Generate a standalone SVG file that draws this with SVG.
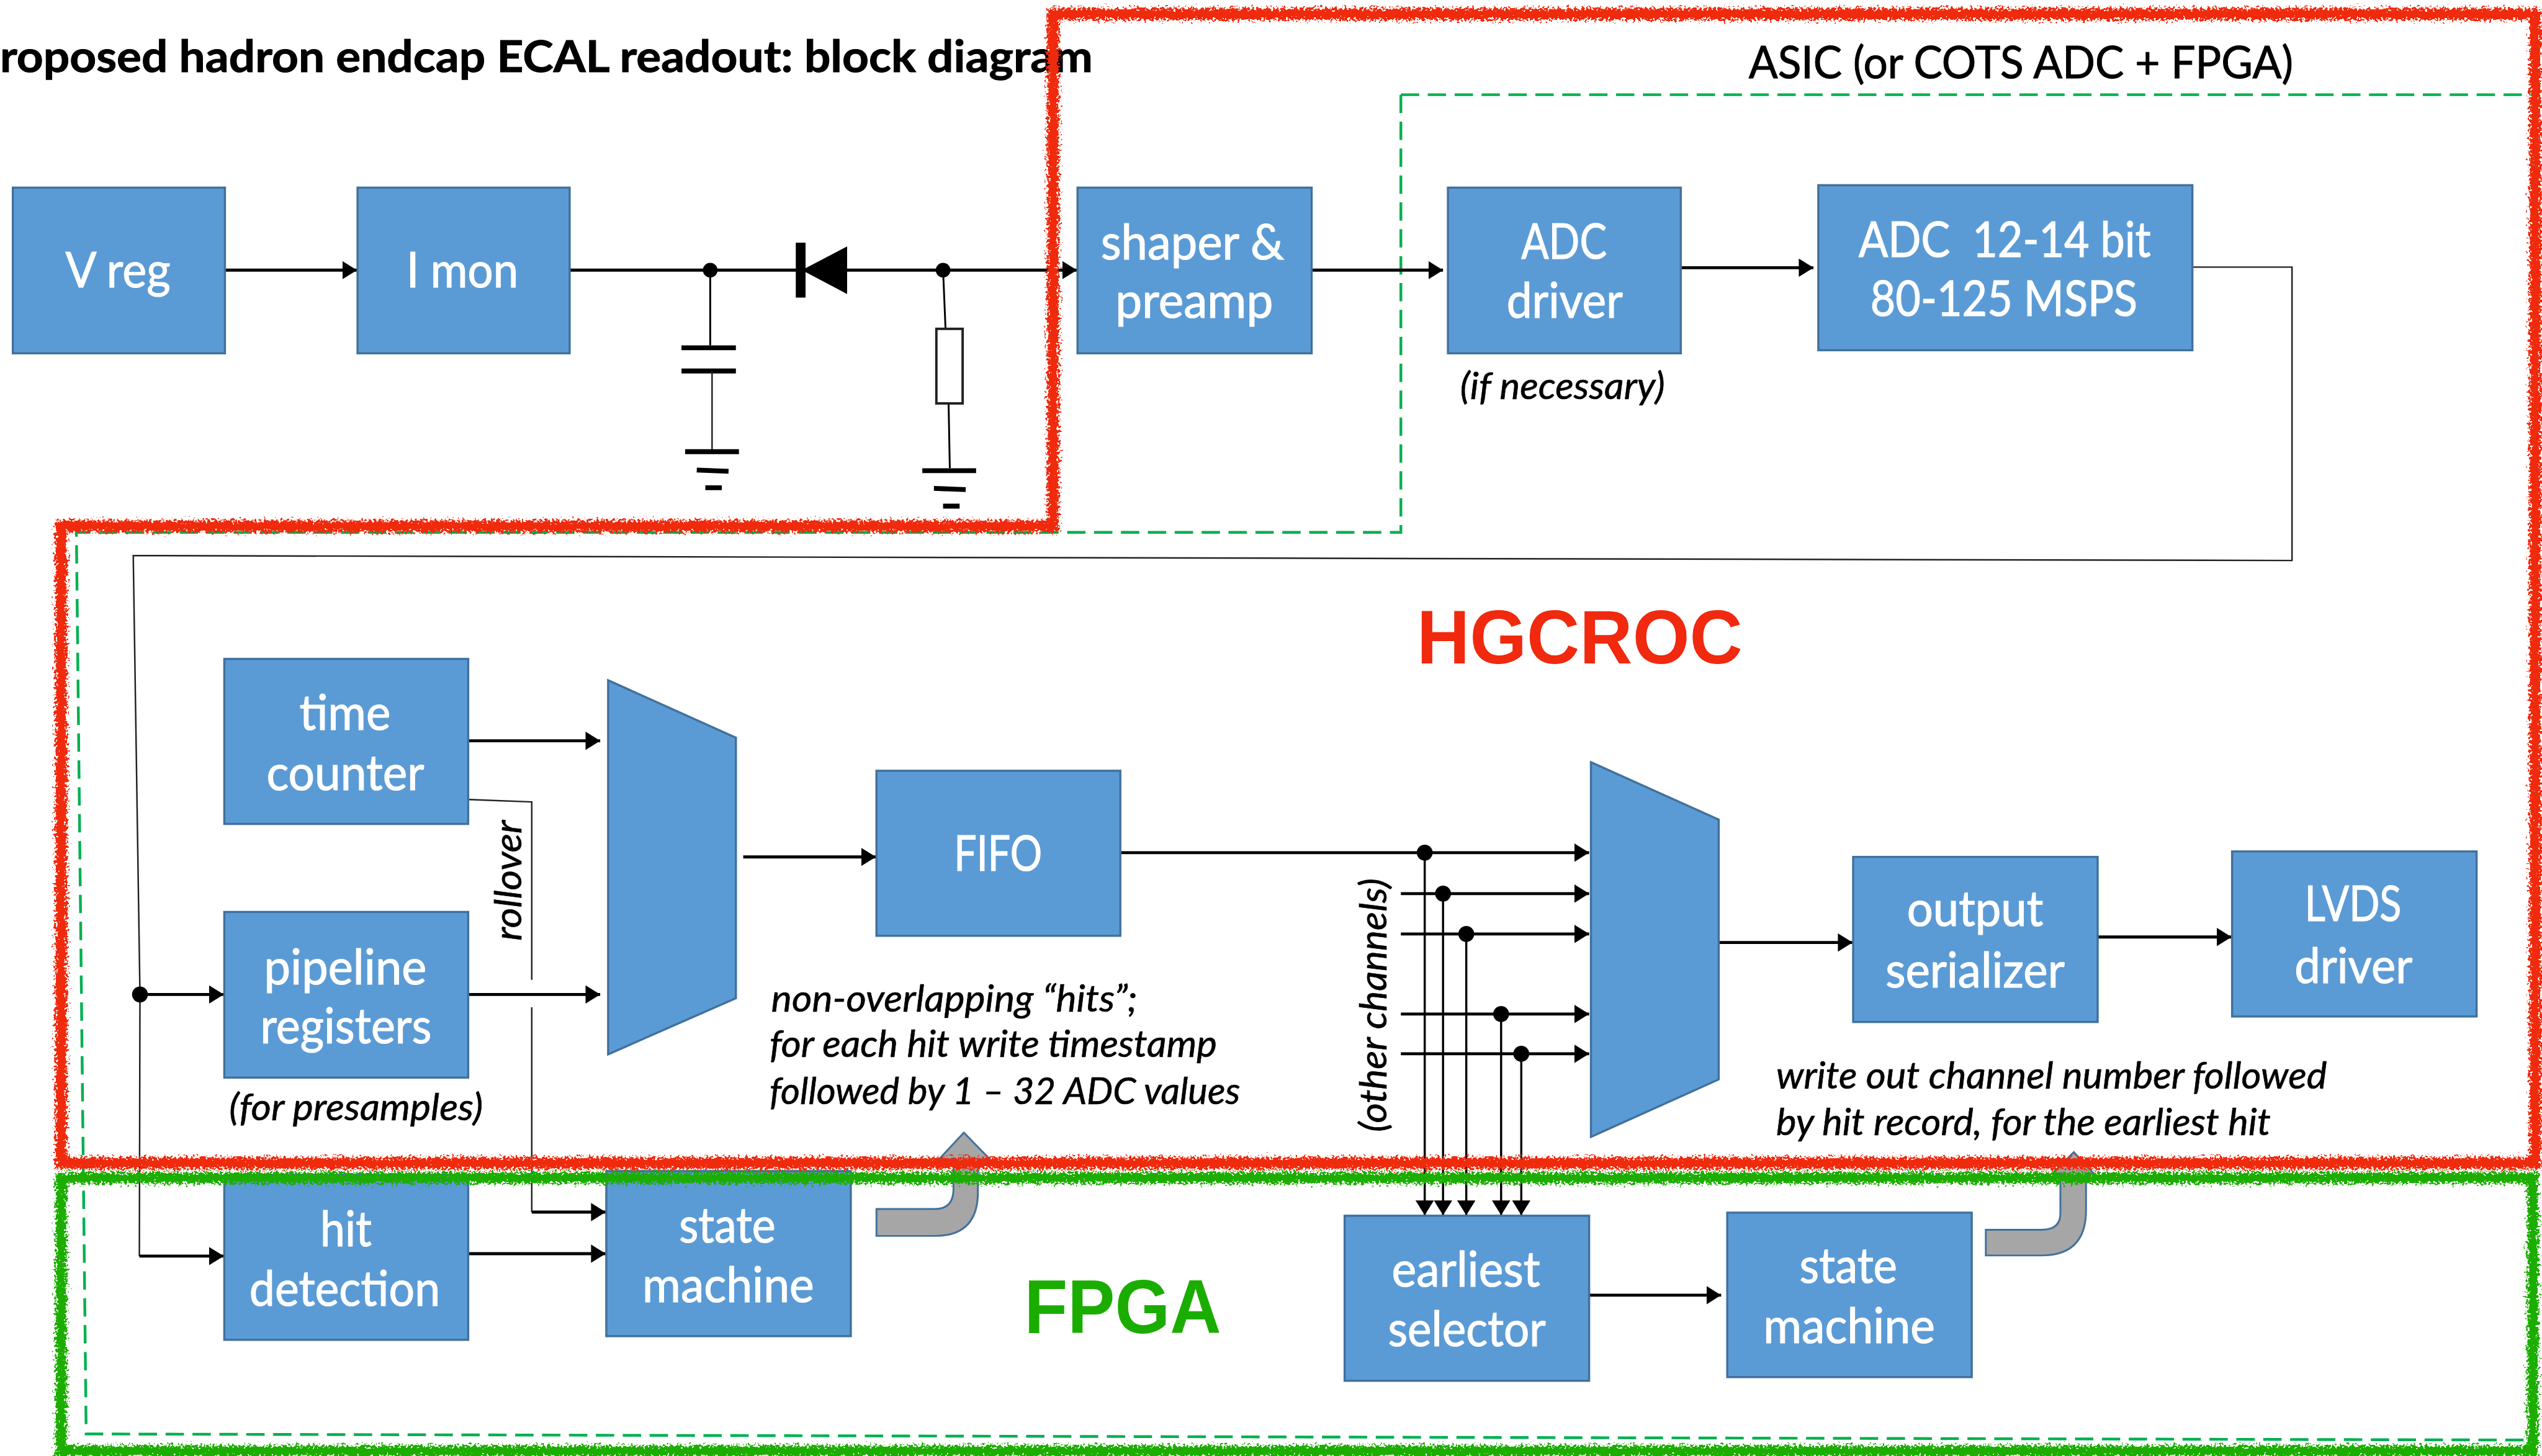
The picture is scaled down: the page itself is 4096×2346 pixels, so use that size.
<svg xmlns="http://www.w3.org/2000/svg" width="4096" height="2346" viewBox="0 0 4096 2346">
<style>
.b{fill:#5b9bd5;stroke:#41719c;stroke-width:3.5}
.t{font-family:Lato,"Liberation Sans",sans-serif;font-size:80px;fill:#fff;stroke:#fff;stroke-width:1.2;transform:translateY(2px)}
.k{font-family:Lato,"Liberation Sans",sans-serif;font-size:72px;fill:#000;stroke:#000;stroke-width:1}
.i{font-family:Lato,"Liberation Sans",sans-serif;font-size:62px;fill:#000;stroke:#000;stroke-width:.7;font-style:italic}
.w{fill:none;stroke:#000;stroke-width:5}
.a{fill:none;stroke:#000;stroke-width:5;marker-end:url(#ah)}
.v{fill:none;stroke:#000;stroke-width:3.5;marker-end:url(#ah)}
.n{fill:none;stroke:#222;stroke-width:2.5}
.bar{fill:none;stroke:#000;stroke-width:8}
.d{fill:#000}
.g{fill:#a6a6a6;stroke:#41719c;stroke-width:3}
.dash{fill:none;stroke:#00b050;stroke-width:4.5;stroke-dasharray:30 14}
.rr{fill:none;stroke:#f0290f;stroke-width:19;filter:url(#rough)}
.rg{fill:none;stroke:#1aad00;stroke-width:18;filter:url(#rough)}
.h{font-family:"Liberation Sans",Arial,sans-serif;font-weight:bold;font-size:124px}
</style>
<defs>
<marker id="ah" markerUnits="userSpaceOnUse" markerWidth="24" markerHeight="30" refX="24" refY="15" orient="auto"><path d="M0 0L24 15L0 30Z" fill="#000"/></marker>
<filter id="rough" filterUnits="userSpaceOnUse" x="0" y="0" width="4159" height="2382"><feTurbulence type="fractalNoise" baseFrequency="0.25" numOctaves="3" seed="4"/><feDisplacementMap in="SourceGraphic" scale="22" xChannelSelector="R" yChannelSelector="G"/></filter>
</defs>
<rect width="4096" height="2346" fill="#fff"/>
<g transform="scale(0.98485)">
<path id="asic-boundary" class="dash" d="M2292 155H4148M2292 155V871H125L141 2346L4130 2356"/>
<text id="title" x="0" y="118" class="k" style="font-weight:bold" textLength="1788" lengthAdjust="spacingAndGlyphs">roposed hadron endcap ECAL readout: block diagram</text>
<text id="asic-label" x="2861" y="128" class="k" textLength="891" lengthAdjust="spacingAndGlyphs">ASIC (or COTS ADC + FPGA)</text>

<g id="connectors">
<path class="a" d="M368 442H584"/>
<path class="a" d="M932 442H1762"/>
<path class="a" d="M2146 442H2361"/>
<path class="a" d="M2751 438H2967"/>
<path class="n" d="M3588 437H3750V917L218 909L229 1627L228 2055"/>
<path class="a" d="M229 1627H366"/>
<path class="a" d="M228 2055H366"/>
<path class="a" d="M766 1212H982"/>
<path class="a" d="M766 1627H982"/>
<path class="n" d="M766 1308L870 1312V1603M870 1648V1983"/>
<path class="a" d="M870 1983H991"/>
<path class="a" d="M766 2051H991"/>
<path class="a" d="M1216 1402H1433"/>
<path class="a" d="M1833 1395H2600"/>
<path class="a" d="M2292 1462H2600"/>
<path class="a" d="M2292 1528H2600"/>
<path class="a" d="M2292 1659H2600"/>
<path class="a" d="M2292 1724H2600"/>
<path class="v" d="M2331 1395V1988"/>
<path class="v" d="M2361 1462V1988"/>
<path class="v" d="M2399 1528V1988"/>
<path class="v" d="M2456 1659V1988"/>
<path class="v" d="M2489 1724V1988"/>
<path class="a" d="M2812 1542H3031"/>
<path class="a" d="M3433 1533H3651"/>
<path class="a" d="M2600 2119H2816"/>
<circle class="d" cx="229" cy="1627" r="13"/>
<circle class="d" cx="2331" cy="1395" r="13"/>
<circle class="d" cx="2361" cy="1462" r="13"/>
<circle class="d" cx="2399" cy="1528" r="13"/>
<circle class="d" cx="2456" cy="1659" r="13"/>
<circle class="d" cx="2489" cy="1724" r="13"/>
</g>

<g id="circuit">
<circle class="d" cx="1162" cy="442" r="12"/>
<circle class="d" cx="1543" cy="442" r="12"/>
<path class="d" d="M1302 397H1318V487H1302Z"/>
<path class="d" d="M1312 442L1386 403V481Z"/>
<path class="w" style="stroke-width:3" d="M1162 442V565"/>
<path class="bar" d="M1115 569H1204M1115 607H1204"/>
<path class="n" d="M1165 607V735"/>
<path class="bar" d="M1121 739H1209M1140 769L1192 771M1154 798H1181"/>
<path class="w" style="stroke-width:3" d="M1543 442L1547 538M1552 660L1554 766"/>
<rect x="1532" y="538" width="43" height="122" fill="#fff" stroke="#222" stroke-width="4"/>
<path class="bar" d="M1509 770H1597M1528 799L1580 801M1543 828H1570"/>
</g>

<g id="v-reg"><rect class="b" x="21" y="307" width="347" height="271"/><text class="t" x="107" y="468" textLength="172" lengthAdjust="spacingAndGlyphs">V reg</text></g>
<g id="i-mon"><rect class="b" x="585" y="307" width="347" height="271"/><text class="t" x="665" y="468" textLength="183" lengthAdjust="spacingAndGlyphs">I mon</text></g>
<g id="shaper"><rect class="b" x="1763" y="307" width="383" height="271"/><text class="t" x="1801" y="422" textLength="300" lengthAdjust="spacingAndGlyphs">shaper &amp;</text><text class="t" x="1825" y="518" textLength="258" lengthAdjust="spacingAndGlyphs">preamp</text></g>
<g id="adc-driver"><rect class="b" x="2369" y="307" width="381" height="271"/><text class="t" x="2489" y="421" textLength="140" lengthAdjust="spacingAndGlyphs">ADC</text><text class="t" x="2465" y="518" textLength="190" lengthAdjust="spacingAndGlyphs">driver</text></g>
<g id="adc"><rect class="b" x="2975" y="303" width="612" height="270"/><text class="t" x="3041" y="418" textLength="478" lengthAdjust="spacingAndGlyphs" xml:space="preserve">ADC  12-14 bit</text><text class="t" x="3060" y="515" textLength="437" lengthAdjust="spacingAndGlyphs">80-125 MSPS</text></g>
<text id="if-necessary" class="i" x="2389" y="653" textLength="335" lengthAdjust="spacingAndGlyphs">(if necessary)</text>

<g id="time-counter"><rect class="b" x="367" y="1078" width="399" height="270"/><text class="t" x="490" y="1192" textLength="149" lengthAdjust="spacingAndGlyphs">time</text><text class="t" x="436" y="1291" textLength="258" lengthAdjust="spacingAndGlyphs">counter</text></g>
<g id="pipeline"><rect class="b" x="367" y="1492" width="399" height="271"/><text class="t" x="432" y="1608" textLength="266" lengthAdjust="spacingAndGlyphs">pipeline</text><text class="t" x="426" y="1705" textLength="280" lengthAdjust="spacingAndGlyphs">registers</text></g>
<text id="presamples" class="i" x="375" y="1833" textLength="415" lengthAdjust="spacingAndGlyphs">(for presamples)</text>
<g id="hit-detection"><rect class="b" x="367" y="1922" width="399" height="270"/><text class="t" x="524" y="2037" textLength="84" lengthAdjust="spacingAndGlyphs">hit</text><text class="t" x="408" y="2134" textLength="312" lengthAdjust="spacingAndGlyphs">detection</text></g>
<g id="state-machine-1"><rect class="b" x="992" y="1916" width="400" height="270"/><text class="t" x="1111" y="2031" textLength="158" lengthAdjust="spacingAndGlyphs">state</text><text class="t" x="1051" y="2128" textLength="281" lengthAdjust="spacingAndGlyphs">machine</text></g>
<g id="mux-1"><path class="b" d="M995 1113L1204 1207V1633L995 1725Z"/></g>
<g id="fifo"><rect class="b" x="1434" y="1261" width="399" height="270"/><text class="t" x="1561" y="1423" textLength="144" lengthAdjust="spacingAndGlyphs">FIFO</text></g>
<text id="rollover" class="i" transform="translate(853 1539) rotate(-90)" textLength="197" lengthAdjust="spacingAndGlyphs">rollover</text>
<g id="hits-note"><text class="i" x="1262" y="1655" textLength="599" lengthAdjust="spacingAndGlyphs">non-overlapping “hits”;</text><text class="i" x="1259" y="1729" textLength="732" lengthAdjust="spacingAndGlyphs">for each hit write timestamp</text><text class="i" x="1259" y="1806" textLength="770" lengthAdjust="spacingAndGlyphs">followed by 1 – 32 ADC values</text></g>
<g id="mux-2"><path class="b" d="M2603 1247L2812 1341V1766L2603 1860Z"/></g>
<text id="other-channels" class="i" transform="translate(2268 1852) rotate(-90)" textLength="415" lengthAdjust="spacingAndGlyphs">(other channels)</text>
<g id="earliest-selector"><rect class="b" x="2200" y="1989" width="400" height="270"/><text class="t" x="2277" y="2103" textLength="243" lengthAdjust="spacingAndGlyphs">earliest</text><text class="t" x="2271" y="2200" textLength="258" lengthAdjust="spacingAndGlyphs">selector</text></g>
<g id="state-machine-2"><rect class="b" x="2826" y="1984" width="400" height="269"/><text class="t" x="2944" y="2097" textLength="160" lengthAdjust="spacingAndGlyphs">state</text><text class="t" x="2885" y="2195" textLength="281" lengthAdjust="spacingAndGlyphs">machine</text></g>
<g id="output-serializer"><rect class="b" x="3032" y="1402" width="400" height="270"/><text class="t" x="3120" y="1513" textLength="223" lengthAdjust="spacingAndGlyphs">output</text><text class="t" x="3085" y="1613" textLength="293" lengthAdjust="spacingAndGlyphs">serializer</text></g>
<g id="lvds-driver"><rect class="b" x="3652" y="1393" width="400" height="270"/><text class="t" x="3771" y="1505" textLength="158" lengthAdjust="spacingAndGlyphs">LVDS</text><text class="t" x="3754" y="1606" textLength="193" lengthAdjust="spacingAndGlyphs">driver</text></g>
<g id="write-note"><text class="i" x="2906" y="1781" textLength="901" lengthAdjust="spacingAndGlyphs">write out channel number followed</text><text class="i" x="2906" y="1857" textLength="809" lengthAdjust="spacingAndGlyphs">by hit record, for the earliest hit</text></g>

<path id="bent-arrow-1" class="g" d="M1434 1978H1530Q1560 1978 1560 1945V1897H1536L1577 1853L1620 1897H1600V1950Q1600 2022 1530 2022H1434Z"/>
<path id="bent-arrow-2" class="g" d="M3249 2012H3340Q3371 2012 3371 1985V1920H3358L3393 1885L3426 1920H3413V1980Q3413 2054 3340 2054H3249Z"/>

<path id="fpga-boundary" class="rg" d="M100 1927H4144V2374H100Z"/>
<path id="hgcroc-boundary" class="rr" d="M1723 23H4148V1903H100V861H1723Z"/>
<text id="hgcroc-label" class="h" x="2318" y="1085" fill="#f0290f" textLength="533" lengthAdjust="spacingAndGlyphs">HGCROC</text>
<text id="fpga-label" class="h" x="1676" y="2181" fill="#1aad00" textLength="322" lengthAdjust="spacingAndGlyphs">FPGA</text>
</g>
</svg>
